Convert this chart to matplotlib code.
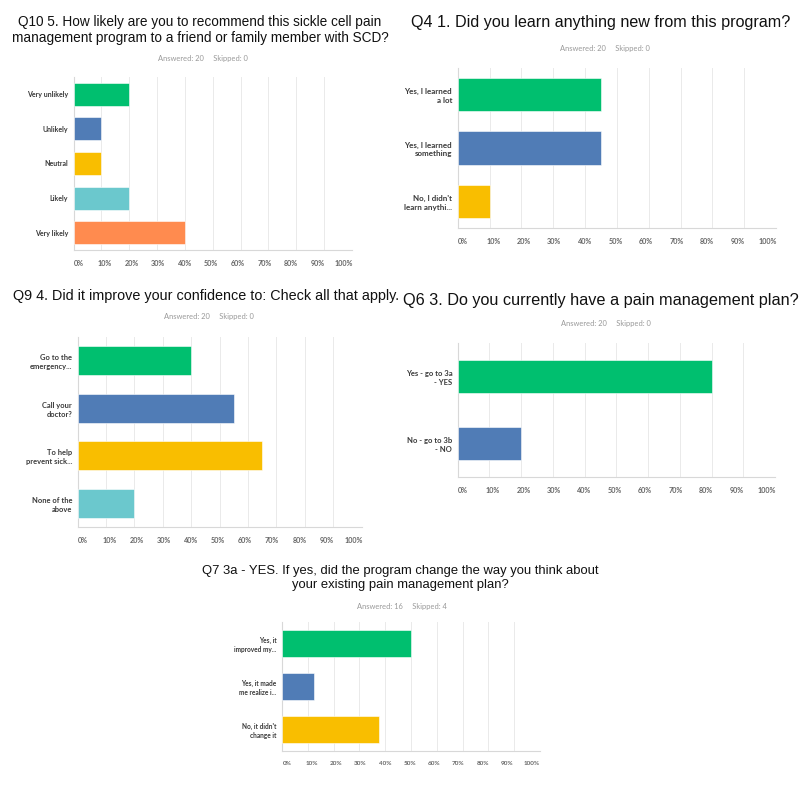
import matplotlib
matplotlib.use("Agg")
import matplotlib.pyplot as plt
import numpy as np

GREEN = "#00BF6F"
BLUE = "#507CB6"
YELLOW = "#F9BE00"
TEAL = "#6BC8CD"
ORANGE = "#FF8B4F"

pct_ticks = [0, 10, 20, 30, 40, 50, 60, 70, 80, 90, 100]
pct_labels = ["0%", "10%", "20%", "30%", "40%", "50%", "60%", "70%", "80%", "90%", "100%"]

q10_title = "Q10 5. How likely are you to recommend this sickle cell pain\nmanagement program to a friend or family member with SCD?"
q10_stats = "Answered: 20     Skipped: 0"
q10_cats = ["Very unlikely", "Unlikely", "Neutral", "Likely", "Very likely"]
q10_vals = [20, 10, 10, 20, 40]
q10_cols = [GREEN, BLUE, YELLOW, TEAL, ORANGE]

q4_title = "Q4 1. Did you learn anything new from this program?"
q4_stats = "Answered: 20     Skipped: 0"
q4_cats = ["Yes, I learned\na lot", "Yes, I learned\nsomething", "No, I didn't\nlearn anythi..."]
q4_vals = [45, 45, 10]
q4_cols = [GREEN, BLUE, YELLOW]

q9_title = "Q9 4. Did it improve your confidence to: Check all that apply."
q9_stats = "Answered: 20     Skipped: 0"
q9_cats = ["Go to the\nemergency...", "Call your\ndoctor?", "To help\nprevent sick...", "None of the\nabove"]
q9_vals = [40, 55, 65, 20]
q9_cols = [GREEN, BLUE, YELLOW, TEAL]

q6_title = "Q6 3. Do you currently have a pain management plan?"
q6_stats = "Answered: 20     Skipped: 0"
q6_cats = ["Yes - go to 3a\n- YES", "No - go to 3b\n- NO"]
q6_vals = [80, 20]
q6_cols = [GREEN, BLUE]

q7_title = "Q7 3a - YES. If yes, did the program change the way you think about\nyour existing pain management plan?"
q7_stats = "Answered: 16     Skipped: 4"
q7_cats = ["Yes, it\nimproved my...", "Yes, it made\nme realize i...", "No, it didn't\nchange it"]
q7_vals = [50, 12.5, 37.5]
q7_cols = [GREEN, BLUE, YELLOW]

W = H = 800
fig = plt.figure(figsize=(8, 8), dpi=100)
fig.patch.set_facecolor("white")

TITLE_FONT = ["Liberation Sans", "DejaVu Sans"]
LABEL_FONT = ["Lato", "DejaVu Sans"]


def px_rect(l, t, r, b):
    return [l / W, 1 - b / H, (r - l) / W, (b - t) / H]


def panel(rect, cats, vals, cols, title, title_xy, title_size, title_ls, stats, stats_xy,
          bar_h=0.63, cat_size=5.2, tick_size=5.2):
    ax = fig.add_axes(px_rect(*rect))
    y = np.arange(len(cats))
    ax.barh(y, vals, height=bar_h, color=cols, edgecolor="white", linewidth=0.4, zorder=3)
    ax.set_xlim(0, 100)
    ax.set_ylim(len(cats) - 0.5, -0.5)
    ax.set_xticks(pct_ticks)
    ax.tick_params(axis="x", labelbottom=False, length=0)
    ax.set_yticks(y)
    ax.set_yticklabels(cats, fontsize=cat_size, color="#3a3a3a",
                       fontweight="bold", family=LABEL_FONT, ha="right",
                       multialignment="right", linespacing=1.3)
    ax.tick_params(axis="y", length=0, pad=4)
    ax.grid(axis="x", color="#EAEAEA", linewidth=0.7, zorder=0)
    for s in ["top", "right"]:
        ax.spines[s].set_visible(False)
    ax.spines["left"].set_color("#D8D8D8")
    ax.spines["bottom"].set_color("#D8D8D8")
    ax.spines["left"].set_linewidth(0.8)
    ax.spines["bottom"].set_linewidth(0.8)
    # tick labels sit on a slightly narrower scale than the gridlines
    width_px = rect[2] - rect[0]
    s = (width_px - 13) / 100.0
    tw = ax.twiny()
    tw.set_xlim(-5 / s, 100 + 8 / s)
    tw.xaxis.set_ticks_position("bottom")
    tw.xaxis.set_label_position("bottom")
    tw.set_xticks(pct_ticks)
    tw.set_xticklabels(pct_labels, fontsize=tick_size, color="#666666",
                       fontweight="bold", family=LABEL_FONT)
    tw.tick_params(axis="x", length=0, pad=7)
    for sp in tw.spines.values():
        sp.set_visible(False)
    fig.text(title_xy[0] / W, 1 - title_xy[1] / H, title, ha="center", va="center",
             fontsize=title_size, family=TITLE_FONT, color="#111111", linespacing=title_ls)
    fig.text(stats_xy[0] / W, 1 - stats_xy[1] / H, stats, ha="center", va="center",
             fontsize=5.4, family=LABEL_FONT, color="#999999")
    return ax


panel((73.5, 77, 352, 250), q10_cats, q10_vals, q10_cols, q10_title, (200, 30), 9.8, 1.15,
      q10_stats, (203, 59), bar_h=0.66, cat_size=5.0)
panel((457.7, 68, 776, 228), q4_cats, q4_vals, q4_cols, q4_title, (601, 22), 11.6, 1.1,
      q4_stats, (605, 48), bar_h=0.62, cat_size=5.8)
panel((77.7, 337, 361.5, 527), q9_cats, q9_vals, q9_cols, q9_title, (206, 296), 10.4, 1.1,
      q9_stats, (209, 317), bar_h=0.61, cat_size=5.4)
panel((457.7, 343, 775, 477), q6_cats, q6_vals, q6_cols, q6_title, (601, 300), 11.7, 1.1,
      q6_stats, (606, 323), bar_h=0.5, cat_size=5.5)
panel((282, 622, 540, 751), q7_cats, q7_vals, q7_cols, q7_title, (400, 578), 9.4, 1.3,
      q7_stats, (402, 606), bar_h=0.63, cat_size=4.7, tick_size=4.6)

fig.savefig("out.png", dpi=100, facecolor="white")
